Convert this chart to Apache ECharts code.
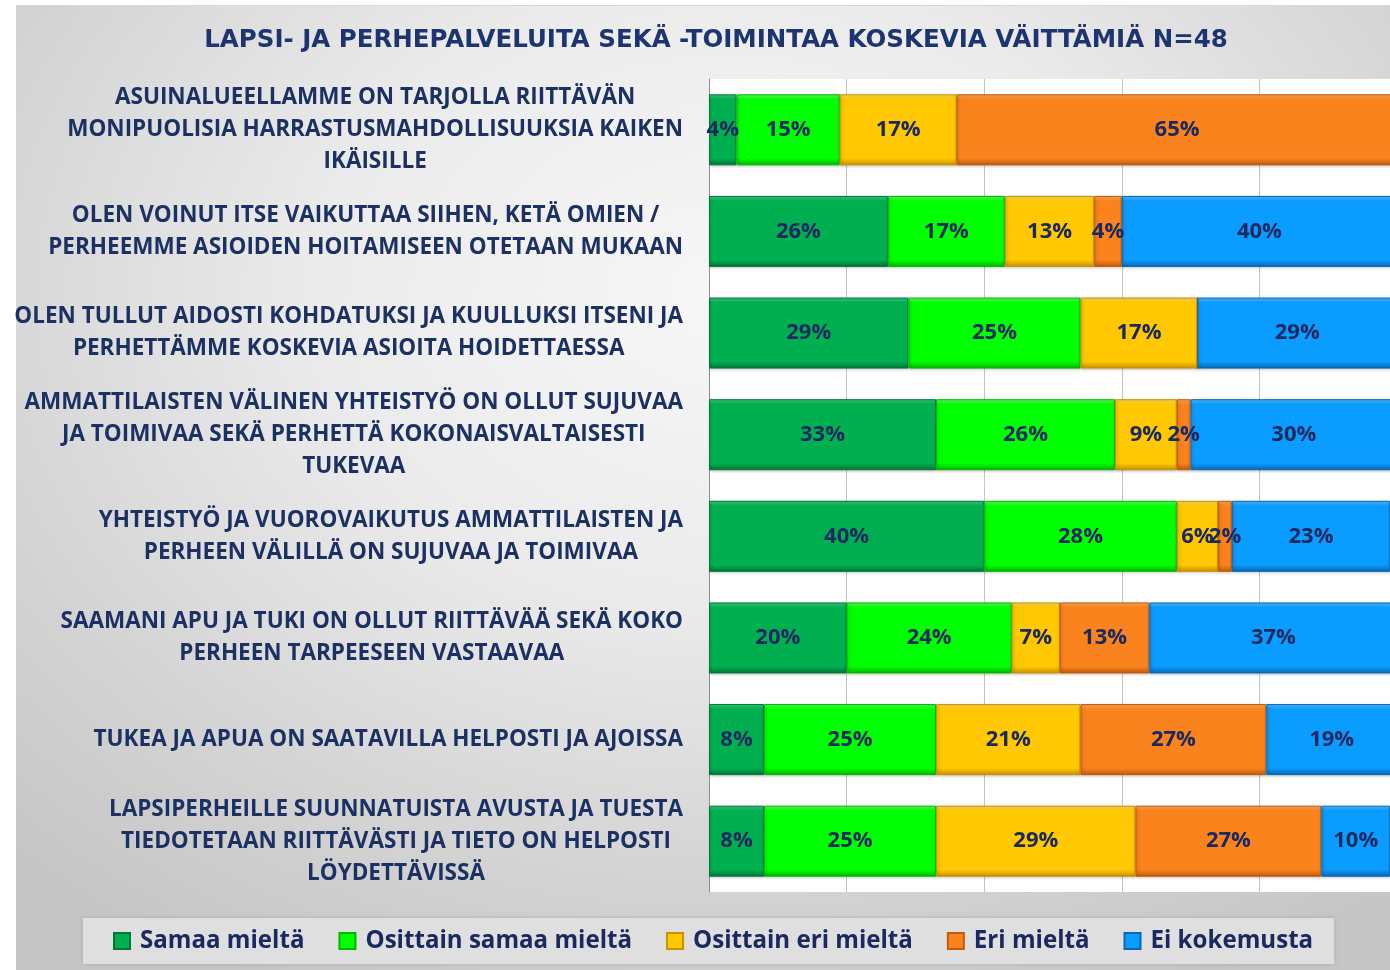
<!DOCTYPE html>
<html>
<head>
<meta charset="utf-8">
<script src="https://cdn.jsdelivr.net/npm/echarts@6/dist/echarts.min.js"></script>
<style>
  html, body { margin: 0; padding: 0; background: #fff; }
  #bg {
    position: absolute; left: 16px; top: 5px; width: 1374px; height: 965px;
    border-top: 1px solid #d8d8d8;
    background: radial-gradient(ellipse 75% 80% at 52% 30%, #f7f7f7 0%, #ebebeb 40%, #d4d4d4 75%, #c6c6c6 100%);
  }
  #chart { position: absolute; left: 0; top: 0; width: 1390px; height: 970px; }
</style>
</head>
<body>
<div id="bg"></div>
<div id="chart"></div>
<script>
// kysymykset (rivit ylhäältä alas)
var categories = [
    'ASUINALUEELLAMME ON TARJOLLA RIITTÄVÄN\nMONIPUOLISIA HARRASTUSMAHDOLLISUUKSIA KAIKEN\nIKÄISILLE',
    'OLEN VOINUT ITSE VAIKUTTAA SIIHEN, KETÄ OMIEN /\nPERHEEMME ASIOIDEN HOITAMISEEN OTETAAN MUKAAN',
    'OLEN TULLUT AIDOSTI KOHDATUKSI JA KUULLUKSI ITSENI JA\nPERHETTÄMME KOSKEVIA ASIOITA HOIDETTAESSA',
    'AMMATTILAISTEN VÄLINEN YHTEISTYÖ ON OLLUT SUJUVAA\nJA TOIMIVAA SEKÄ PERHETTÄ KOKONAISVALTAISESTI\nTUKEVAA',
    'YHTEISTYÖ JA VUOROVAIKUTUS AMMATTILAISTEN JA\nPERHEEN VÄLILLÄ ON SUJUVAA JA TOIMIVAA',
    'SAAMANI APU JA TUKI ON OLLUT RIITTÄVÄÄ SEKÄ KOKO\nPERHEEN TARPEESEEN VASTAAVAA',
    'TUKEA JA APUA ON SAATAVILLA HELPOSTI JA AJOISSA',
    'LAPSIPERHEILLE SUUNNATUISTA AVUSTA JA TUESTA\nTIEDOTETAAN RIITTÄVÄSTI JA TIETO ON HELPOSTI\nLÖYDETTÄVISSÄ'
];

var seriesNames = ['Samaa mieltä', 'Osittain samaa mieltä', 'Osittain eri mieltä', 'Eri mieltä', 'Ei kokemusta'];

// prosentit
var samaa = [4, 26, 29, 33, 40, 20, 8, 8];
var osSamaa = [15, 17, 25, 26, 28, 24, 25, 25];
var osEri = [17, 13, 17, 9, 6, 7, 21, 29];
var eri = [65, 4, 0, 2, 2, 13, 27, 27];
var eiKok = [0, 40, 29, 30, 23, 37, 19, 10];

var xTicks = [0, 20, 40, 60, 80, 100];

var chart = echarts.init(document.getElementById('chart'));

// värit: [perus, vaalea reuna, tumma reuna]
var palette = [
    ['#00b050', '#3fd27f', '#00763a'],
    ['#00ff00', '#6bff6b', '#00b800'],
    ['#ffc800', '#ffe066', '#c99200'],
    ['#fb831d', '#ffb066', '#c45a08'],
    ['#0b9cff', '#5cc0ff', '#0668b8']
];

function bevel(c) {
    return {
        type: 'linear', x: 0, y: 0, x2: 0, y2: 1,
        colorStops: [
            { offset: 0, color: c[1] },
            { offset: 0.07, color: c[0] },
            { offset: 0.9, color: c[0] },
            { offset: 1, color: c[2] }
        ]
    };
}

var allData = [samaa, osSamaa, osEri, eri, eiKok];
var series = [];
for (var i = 0; i < allData.length; i++) {
    series.push({
        name: seriesNames[i],
        type: 'bar',
        stack: 'total',
        barWidth: 71,
        data: allData[i],
        itemStyle: {
            color: bevel(palette[i]),
            borderColor: palette[i][2],
            borderWidth: 1,
            shadowColor: 'rgba(0,0,0,0.25)',
            shadowBlur: 3,
            shadowOffsetX: 1,
            shadowOffsetY: 1
        },
        label: {
            show: true,
            position: 'inside',
            formatter: function (p) { return p.value > 0 ? p.value + '%' : ''; },
            color: '#1a2960',
            fontFamily: 'Open Sans',
            fontWeight: 'bold',
            fontSize: 22
        }
    });
}

var option = {
    backgroundColor: 'transparent',
    title: {
        text: 'LAPSI- JA PERHEPALVELUITA SEKÄ -TOIMINTAA KOSKEVIA VÄITTÄMIÄ N=48',
        left: 711,
        top: 23,
        textAlign: 'center',
        textStyle: {
            color: '#1c3470',
            fontFamily: 'DejaVu Sans',
            fontWeight: 'bold',
            fontSize: 24.5
        }
    },
    legend: {
        data: seriesNames,
        left: 83,
        top: 918,
        padding: [11, 21, 11, 30],
        itemWidth: 16,
        itemHeight: 16,
        itemGap: 34,
        icon: 'rect',
        backgroundColor: '#dfdfdf',
        shadowColor: 'rgba(0,0,0,0.15)',
        shadowBlur: 4,
        textStyle: {
            color: '#1a2960',
            fontFamily: 'Open Sans',
            fontWeight: 'bold',
            fontSize: 24.1,
            padding: [0, 0, 0, 5]
        }
    },
    grid: {
        left: 709,
        top: 79,
        width: 688,
        height: 813,
        outerBoundsMode: 'none',
        containLabel: false,
        show: true,
        backgroundColor: '#ffffff',
        borderWidth: 0
    },
    xAxis: {
        type: 'value',
        min: xTicks[0],
        max: xTicks[xTicks.length - 1],
        interval: 20,
        axisLine: { show: false },
        axisTick: { show: false },
        axisLabel: { show: false },
        splitLine: { show: true, lineStyle: { color: '#c4c4c4', width: 1 } }
    },
    yAxis: {
        type: 'category',
        data: categories,
        inverse: true,
        axisLine: { show: true, lineStyle: { color: '#8c8c8c', width: 1 } },
        axisTick: { show: false },
        axisLabel: {
            margin: 26,
            align: 'right',
            formatter: function (v) {
                return v.split('\n').map(function (l) { return '{c|' + l + '}'; }).join('\n');
            },
            rich: {
                c: {
                    align: 'center',
                    color: '#1c3163',
                    fontFamily: 'Open Sans',
                    fontWeight: 'bold',
                    fontSize: 22.5,
                    lineHeight: 32
                }
            }
        }
    },
    series: series
};

chart.setOption(option);
</script>
</body>
</html>
